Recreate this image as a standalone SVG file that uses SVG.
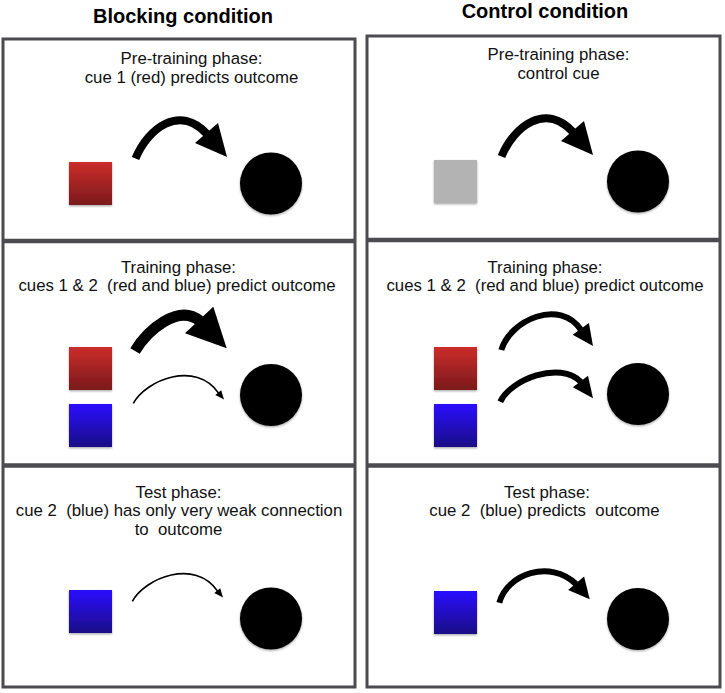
<svg xmlns="http://www.w3.org/2000/svg" width="725" height="693" viewBox="0 0 725 693">
<style>
.hdr{font-family:"Liberation Sans",Arial,sans-serif;font-weight:bold;font-size:20px;fill:#000;text-anchor:middle}
.lbl{font-family:"Liberation Sans",Arial,sans-serif;font-size:16.8px;fill:#111;text-anchor:middle;white-space:pre}
.panel{fill:#fff;stroke:#4b4b50;stroke-width:3}
.div{stroke:#4b4b50;stroke-width:4.5}
.shaft{fill:none;stroke:#000;stroke-linecap:butt}
.head{fill:#000;stroke:none}
.outcome{fill:#000;filter:url(#sh)}
.cue{filter:url(#sh)}
</style>
<defs>
<linearGradient id="red" x1="0" y1="0" x2="0" y2="1"><stop offset="0" stop-color="#cc2d2a"/><stop offset="1" stop-color="#7a1a1c"/></linearGradient>
<linearGradient id="blue" x1="0" y1="0" x2="0" y2="1"><stop offset="0" stop-color="#2c0cff"/><stop offset="1" stop-color="#1b0a86"/></linearGradient>
<filter id="sh" x="-20%" y="-20%" width="140%" height="150%"><feDropShadow dx="0" dy="1.2" stdDeviation="1.2" flood-color="#000" flood-opacity="0.35"/></filter>
</defs>
<rect width="725" height="693" fill="#fff"/>
<g id="headers">
<text class="hdr" x="183" y="23">Blocking condition</text>
<text class="hdr" x="545" y="17.5">Control condition</text>
</g>
<g id="panels">
<rect class="panel" x="3" y="39" width="352" height="648"/>
<line class="div" x1="3" y1="241" x2="355" y2="241"/>
<line class="div" x1="3" y1="465.5" x2="355" y2="465.5"/>
<rect class="panel" x="367" y="36" width="353" height="651"/>
<line class="div" x1="367" y1="240" x2="720" y2="240"/>
<line class="div" x1="367" y1="465.5" x2="720" y2="465.5"/>
</g>
<g id="labels">
<text class="lbl" x="191.5" y="63.5">Pre-training phase:</text>
<text class="lbl" x="191.5" y="82.5">cue 1 (red) predicts outcome</text>
<text class="lbl" x="558.5" y="60">Pre-training phase:</text>
<text class="lbl" x="558.5" y="79">control cue</text>
<text class="lbl" x="178.5" y="272.5">Training phase:</text>
<text class="lbl" x="177" y="291" xml:space="preserve">cues 1 &amp; 2  (red and blue) predict outcome</text>
<text class="lbl" x="545" y="272.5">Training phase:</text>
<text class="lbl" x="545" y="291" xml:space="preserve">cues 1 &amp; 2  (red and blue) predict outcome</text>
<text class="lbl" x="178.5" y="497.5">Test phase:</text>
<text class="lbl" x="179" y="516" xml:space="preserve">cue 2  (blue) has only very weak connection</text>
<text class="lbl" x="178.5" y="535" xml:space="preserve">to  outcome</text>
<text class="lbl" x="547" y="497.5">Test phase:</text>
<text class="lbl" x="544.5" y="516" xml:space="preserve">cue 2  (blue) predicts  outcome</text>
</g>
<g id="block-pre-cue1"><rect class="cue" x="69" y="162" width="43" height="43" fill="url(#red)"/></g>
<g id="block-pre-outcome"><circle class="outcome" cx="271" cy="183.5" r="31"/></g>
<g id="ctrl-pre-cue"><rect class="cue" x="434" y="160" width="43" height="43" fill="#b3b3b3"/></g>
<g id="ctrl-pre-outcome"><circle class="outcome" cx="638" cy="181.5" r="31"/></g>
<g id="block-train-cue1"><rect class="cue" x="69" y="347" width="43" height="43" fill="url(#red)"/></g>
<g id="block-train-cue2"><rect class="cue" x="69" y="404" width="43" height="43" fill="url(#blue)"/></g>
<g id="block-train-outcome"><circle class="outcome" cx="271" cy="395" r="31"/></g>
<g id="ctrl-train-cue1"><rect class="cue" x="434" y="347" width="43" height="43" fill="url(#red)"/></g>
<g id="ctrl-train-cue2"><rect class="cue" x="434" y="404" width="43" height="43" fill="url(#blue)"/></g>
<g id="ctrl-train-outcome"><circle class="outcome" cx="638" cy="394" r="31"/></g>
<g id="block-test-cue2"><rect class="cue" x="69" y="590" width="43" height="43" fill="url(#blue)"/></g>
<g id="block-test-outcome"><circle class="outcome" cx="271" cy="618.5" r="31"/></g>
<g id="ctrl-test-cue2"><rect class="cue" x="434" y="591" width="43" height="43" fill="url(#blue)"/></g>
<g id="ctrl-test-outcome"><circle class="outcome" cx="638" cy="619" r="31"/></g>
<g id="connectors">
<path class="shaft" stroke-width="8" d="M135.5,158.5 C148,128 180,104 207,134"/>
<polygon class="head" points="218,123 227,157 195,143"/>
<path class="shaft" stroke-width="8" d="M501.5,156.5 C514,126 546,102 573,132"/>
<polygon class="head" points="584,121 593,155 561,141"/>
<path class="shaft" stroke-width="11" d="M135,351 C147,331 178,303 200,321"/>
<polygon class="head" points="213.3,306.7 226.7,348.3 185,333.3"/>
<path class="shaft" stroke-width="1.6" d="M133.3,403.3 C146,380 196,360 218.5,393"/>
<polygon class="head" points="221.2,390.2 224,399.5 215.3,395"/>
<path class="shaft" stroke-width="6" d="M501.3,350 C510,320 560,298 581,330"/>
<polygon class="head" points="588.9,323.1 593,346 572.7,334.7"/>
<path class="shaft" stroke-width="6" d="M500.3,401.7 C510,380 560,360 581,382"/>
<polygon class="head" points="588,375.8 593,398.3 572.8,387.2"/>
<path class="shaft" stroke-width="1.6" d="M132.3,601.3 C145,578 195,558 217.5,591"/>
<polygon class="head" points="220.2,588.2 223,597.5 214.3,593"/>
<path class="shaft" stroke-width="6" d="M499.3,602.7 C507,574 550,559 576,584"/>
<polygon class="head" points="584.1,576.5 589.7,599.3 568.1,590.1"/>
</g>
</svg>
